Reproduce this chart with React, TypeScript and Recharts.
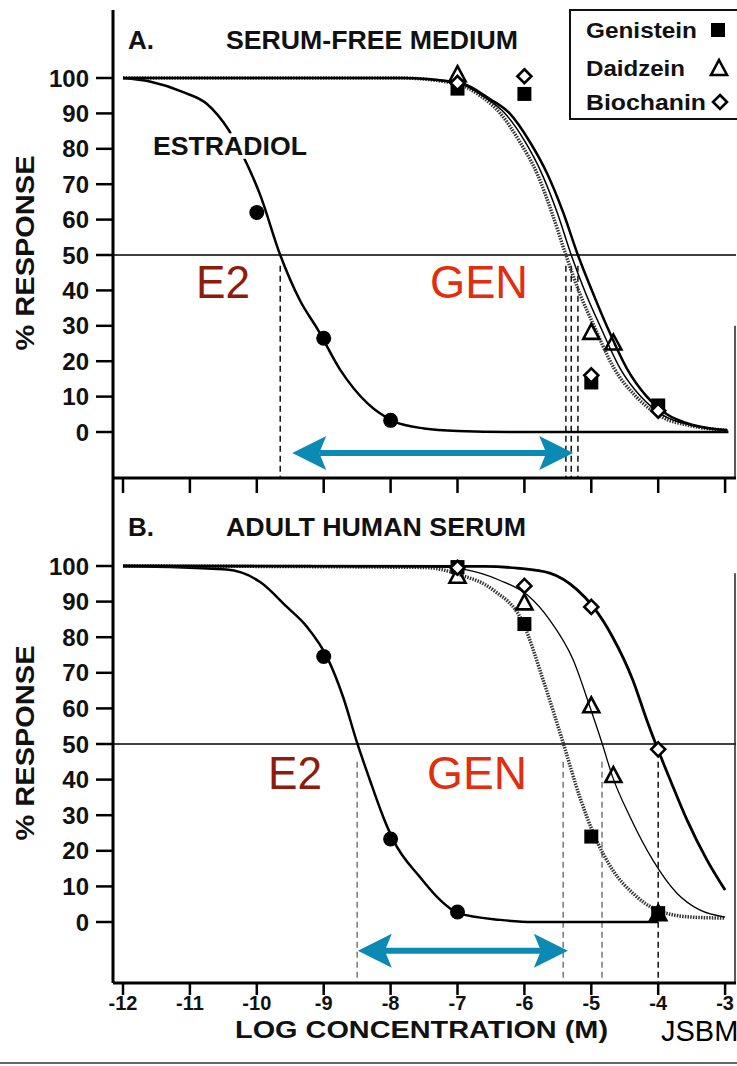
import React from 'react';
import { ComposedChart, Line, Scatter, XAxis, YAxis, ReferenceLine } from 'recharts';

type P = { x: number; y: number };
const pts = (a: number[][]): P[] => a.map(([x, y]) => ({ x, y }));

// ---- axis ticks ----
const xTicks = [-12, -11, -10, -9, -8, -7, -6, -5, -4, -3];
const yTicks = [0, 10, 20, 30, 40, 50, 60, 70, 80, 90, 100];

// ---- Panel A: serum-free medium (fitted curves) ----
const estradiolCurveA = [[-12, 100], [-11.6, 99], [-11.1, 96], [-10.74, 92.6], [-10.43, 85.6], [-10.13, 75], [-9.95, 67], [-9.65, 50], [-9.35, 37], [-9.09, 29], [-8.75, 17.5], [-8.34, 8], [-7.95, 3], [-7.5, 1], [-7, 0.3], [-6, 0], [-2.95, 0]];
const genisteinCurveA = [[-12, 100], [-7.86, 100], [-7.04, 98.5], [-6.66, 95], [-6.36, 90], [-6.07, 82], [-5.81, 73], [-5.59, 62], [-5.38, 50], [-5.17, 39], [-4.96, 30], [-4.66, 18], [-4.33, 10], [-3.97, 4.5], [-3.52, 1.8], [-2.96, 0.5]];
const daidzeinCurveA = [[-12, 100], [-7.86, 100], [-6.99, 98.5], [-6.59, 94.5], [-6.29, 90], [-5.99, 82], [-5.74, 73], [-5.51, 62], [-5.3, 50], [-5.08, 39], [-4.87, 30], [-4.57, 18], [-4.26, 10], [-3.93, 4.8], [-3.51, 1.9], [-2.96, 0.5]];
const biochaninCurveA = [[-12, 100], [-7.86, 100], [-6.96, 98.6], [-6.51, 94], [-6.22, 90], [-5.92, 82], [-5.66, 73], [-5.42, 62], [-5.2, 50], [-4.97, 39], [-4.77, 30], [-4.47, 18], [-4.17, 10], [-3.87, 5], [-3.48, 2], [-2.97, 0.5]];
const estradiolPtsA = [[-10, 62], [-9, 26.5], [-8, 3.3]];
const genisteinPtsA = [[-7, 97], [-6, 95.5], [-5, 14], [-4, 7.5]];
const daidzeinPtsA = [[-7, 100.8], [-5, 28], [-4.67, 25]];
const biochaninPtsA = [[-7, 98.6], [-6, 100.5], [-5, 16], [-4, 6]];
const ic50A = [-9.65, -5.38, -5.3, -5.2];
const arrowA = [-9.47, -5.27];
const arrowLevelA = -5.9;

// ---- Panel B: adult human serum ----
const estradiolCurveB = [[-12, 100], [-10.45, 99], [-9.95, 95.5], [-9.55, 88.5], [-9.25, 82.9], [-8.95, 74.4], [-8.71, 63.2], [-8.5, 50.3], [-8.31, 39.9], [-8.11, 29.5], [-7.96, 23], [-7.56, 12.6], [-7.26, 6.2], [-6.99, 2.5], [-6.36, 0.6], [-5.87, 0], [-4, 0]];
const genisteinCurveB = [[-12, 100], [-7.5, 99.6], [-6.96, 97.5], [-6.47, 93.3], [-6.02, 84], [-5.72, 68], [-5.42, 50.3], [-5.17, 35], [-4.97, 25], [-4.68, 14.6], [-4.38, 8.1], [-4.02, 3.4], [-3.52, 1.4], [-3.0, 1.1]];
const daidzeinCurveB = [[-12, 100], [-7.4, 99.8], [-6.86, 98.9], [-6.37, 96], [-5.96, 91.9], [-5.62, 84.8], [-5.27, 73.6], [-5.02, 60.4], [-4.84, 50.3], [-4.68, 40.7], [-4.42, 29.5], [-4.08, 17.4], [-3.72, 8.1], [-3.38, 3.4], [-3.0, 1.4]];
const biochaninCurveB = [[-12, 100], [-6.6, 99.9], [-6.11, 99.4], [-5.62, 98], [-5.21, 93.3], [-4.97, 88.5], [-4.68, 80], [-4.38, 68], [-4.17, 56.7], [-4.02, 49.2], [-3.82, 39.9], [-3.57, 28.7], [-3.27, 17.4], [-3.0, 9]];
const estradiolPtsB = [[-9, 74.6], [-8, 23.3], [-7, 2.8]];
const genisteinPtsB = [[-7, 99.7], [-6, 83.7], [-5, 24], [-4, 2.5]];
const daidzeinPtsB = [[-7, 97], [-6, 89.5], [-5, 60.6], [-4.67, 41], [-4, 2.2]];
const biochaninPtsB = [[-7, 99.5], [-6, 94.4], [-5, 88.5], [-4, 48.5]];
const ic50B = [-8.5, -5.42, -4.84, -4.0];
const arrowB = [-8.49, -5.35];
const arrowLevelB = -8.1;

// ---- scale settings ----
const X_DOMAIN: [number, number] = [-12.1495, -2.837];
const Y_DOMAIN_A: [number, number] = [-12.99, 119.21];
const Y_DOMAIN_B: [number, number] = [-17.13, 124.72];
const RIGHT_EDGE = -2.852;
const TOP_TICK_LEN_B = 4.2; // inner tick length on panel B's top edge, in % units

const ARROW = '#0B8AB3';
const FONT = '"Liberation Sans", Arial, Helvetica, sans-serif';

const Dot = (p: any) => <circle cx={p.cx} cy={p.cy} r={7.5} fill="#000" />;
const Square = (p: any) => <rect x={p.cx - 7} y={p.cy - 7} width={14} height={14} fill="#000" />;
const Triangle = (p: any) => (
  <path d={`M${p.cx},${p.cy - 9} L${p.cx + 8},${p.cy + 6} L${p.cx - 8},${p.cy + 6} Z`} fill="none" stroke="#000" strokeWidth={2.6} strokeLinejoin="miter" />
);
const Diamond = (p: any) => (
  <path d={`M${p.cx},${p.cy - 7} L${p.cx + 7},${p.cy} L${p.cx},${p.cy + 7} L${p.cx - 7},${p.cy} Z`} fill="#fff" stroke="#000" strokeWidth={2.6} />
);

const ArrowShape = (props: any) => {
  const a = Math.min(props.x1, props.x2);
  const b = Math.max(props.x1, props.x2);
  const y = props.y1;
  const L = 34, H = 17, N = 27;
  return (
    <g>
      <line x1={a + N} y1={y} x2={b - N} y2={y} stroke={ARROW} strokeWidth={6} />
      <path d={`M${a},${y} L${a + L},${y - H} L${a + N},${y} L${a + L},${y + H} Z`} fill={ARROW} />
      <path d={`M${b},${y} L${b - L},${y - H} L${b - N},${y} L${b - L},${y + H} Z`} fill={ARROW} />
    </g>
  );
};

const yAxisProps = {
  type: 'number' as const,
  ticks: yTicks,
  width: 113,
  tickSize: 17,
  tickMargin: 7,
  allowDataOverflow: true,
  axisLine: { stroke: '#000', strokeWidth: 3 },
  tickLine: { stroke: '#000', strokeWidth: 2.5 },
  tick: { fontSize: 24, fontWeight: 700, fill: '#111', fontFamily: FONT },
  interval: 0 as const,
};

function PanelA() {
  return (
    <ComposedChart width={737} height={480} margin={{ top: 10, right: 1, bottom: 2, left: 0 }}>
      <XAxis dataKey="x" type="number" domain={X_DOMAIN} allowDataOverflow hide />
      <XAxis xAxisId="top" orientation="top" type="number" domain={X_DOMAIN} allowDataOverflow height={0} tick={false} tickLine={false} axisLine={{ stroke: '#000', strokeWidth: 3 }} />
      <YAxis {...yAxisProps} domain={Y_DOMAIN_A} />
      <ReferenceLine y={50} stroke="#000" strokeWidth={1.3} />
      <ReferenceLine segment={[{ x: RIGHT_EDGE, y: 30 }, { x: RIGHT_EDGE, y: Y_DOMAIN_A[0] }]} stroke="#222" strokeWidth={1.5} />
      {ic50A.map((v, i) => (
        <ReferenceLine key={i} segment={[{ x: v, y: 47 }, { x: v, y: Y_DOMAIN_A[0] }]} stroke="#111" strokeWidth={1.5} strokeDasharray="6 4" />
      ))}
      <ReferenceLine segment={[{ x: arrowA[0], y: arrowLevelA }, { x: arrowA[1], y: arrowLevelA }]} shape={ArrowShape} />
      <Line data={pts(estradiolCurveA)} dataKey="y" type="monotone" dot={false} stroke="#000" strokeWidth={2.5} isAnimationActive={false} />
      <Line data={pts(genisteinCurveA)} dataKey="y" type="monotone" dot={false} stroke="#333" strokeWidth={3.5} strokeDasharray="1.5 1.2" isAnimationActive={false} />
      <Line data={pts(daidzeinCurveA)} dataKey="y" type="monotone" dot={false} stroke="#000" strokeWidth={1.5} isAnimationActive={false} />
      <Line data={pts(biochaninCurveA)} dataKey="y" type="monotone" dot={false} stroke="#000" strokeWidth={2.5} isAnimationActive={false} />
      <Scatter data={pts(estradiolPtsA)} dataKey="y" shape={Dot} isAnimationActive={false} />
      <Scatter data={pts(genisteinPtsA)} dataKey="y" shape={Square} isAnimationActive={false} />
      <Scatter data={pts(daidzeinPtsA)} dataKey="y" shape={Triangle} isAnimationActive={false} />
      <Scatter data={pts(biochaninPtsA)} dataKey="y" shape={Diamond} isAnimationActive={false} />
    </ComposedChart>
  );
}

function PanelB() {
  return (
    <ComposedChart width={737} height={596} margin={{ top: 8, right: 1, bottom: 0, left: 0 }}>
      <XAxis dataKey="x" type="number" domain={X_DOMAIN} allowDataOverflow ticks={xTicks} interval={0} height={83} tickSize={12} tickMargin={1}
        axisLine={{ stroke: '#000', strokeWidth: 3 }} tickLine={{ stroke: '#000', strokeWidth: 2.5 }}
        tick={{ fontSize: 20, fontWeight: 700, fill: '#111', fontFamily: FONT }} />
      <YAxis {...yAxisProps} domain={Y_DOMAIN_B} />
      <ReferenceLine y={Y_DOMAIN_B[1]} stroke="#000" strokeWidth={3} />
      {xTicks.map((v) => (
        <ReferenceLine key={`t${v}`} segment={[{ x: v, y: Y_DOMAIN_B[1] }, { x: v, y: Y_DOMAIN_B[1] - TOP_TICK_LEN_B }]} stroke="#000" strokeWidth={2.5} />
      ))}
      <ReferenceLine y={50} stroke="#000" strokeWidth={1.3} />
      <ReferenceLine segment={[{ x: RIGHT_EDGE, y: 98 }, { x: RIGHT_EDGE, y: Y_DOMAIN_B[0] }]} stroke="#222" strokeWidth={1.5} />
      {ic50B.map((v, i) => (
        <ReferenceLine key={i} segment={[{ x: v, y: 45 }, { x: v, y: Y_DOMAIN_B[0] }]} stroke={i === 3 ? '#111' : '#777'} strokeWidth={1.5} strokeDasharray="6 4" />
      ))}
      <ReferenceLine segment={[{ x: arrowB[0], y: arrowLevelB }, { x: arrowB[1], y: arrowLevelB }]} shape={ArrowShape} />
      <Line data={pts(estradiolCurveB)} dataKey="y" type="monotone" dot={false} stroke="#000" strokeWidth={2.5} isAnimationActive={false} />
      <Line data={pts(genisteinCurveB)} dataKey="y" type="monotone" dot={false} stroke="#333" strokeWidth={3.5} strokeDasharray="1.5 1.2" isAnimationActive={false} />
      <Line data={pts(daidzeinCurveB)} dataKey="y" type="monotone" dot={false} stroke="#000" strokeWidth={1.3} isAnimationActive={false} />
      <Line data={pts(biochaninCurveB)} dataKey="y" type="monotone" dot={false} stroke="#000" strokeWidth={2.8} isAnimationActive={false} />
      <Scatter data={pts(estradiolPtsB)} dataKey="y" shape={Dot} isAnimationActive={false} />
      <Scatter data={pts(genisteinPtsB)} dataKey="y" shape={Square} isAnimationActive={false} />
      <Scatter data={pts(daidzeinPtsB)} dataKey="y" shape={Triangle} isAnimationActive={false} />
      <Scatter data={pts(biochaninPtsB)} dataKey="y" shape={Diamond} isAnimationActive={false} />
    </ComposedChart>
  );
}

function Overlay() {
  const bold = { fontFamily: FONT, fontWeight: 700, fill: '#111' } as const;
  const halo = { stroke: '#fff', strokeWidth: 7, paintOrder: 'stroke' as const };
  return (
    <svg width={737} height={1066} style={{ position: 'absolute', left: 0, top: 0, pointerEvents: 'none' }}>
      {/* Panel A titles */}
      <text x={128} y={49} fontSize={26} {...bold}>A.</text>
      <text x={226} y={49} fontSize={26} textLength={292} lengthAdjust="spacingAndGlyphs" {...bold}>SERUM-FREE MEDIUM</text>
      <text x={153} y={155} fontSize={26} textLength={154} lengthAdjust="spacingAndGlyphs" {...bold} {...halo}>ESTRADIOL</text>
      {/* Legend */}
      <rect x={570} y={10} width={175} height={109} fill="#fff" stroke="#111" strokeWidth={2} />
      <text x={586} y={38} fontSize={22} textLength={111} lengthAdjust="spacingAndGlyphs" {...bold}>Genistein</text>
      <text x={586} y={76} fontSize={22} textLength={99} lengthAdjust="spacingAndGlyphs" {...bold}>Daidzein</text>
      <text x={586} y={110} fontSize={22} textLength={120} lengthAdjust="spacingAndGlyphs" {...bold}>Biochanin</text>
      <Square cx={718} cy={30} />
      <Triangle cx={719} cy={69} />
      <Diamond cx={720} cy={102} />
      {/* Panel A annotations */}
      <text x={196} y={298} fontSize={46} fill="#8E1B0C" fontFamily={FONT} textLength={54} lengthAdjust="spacingAndGlyphs">E2</text>
      <text x={430} y={298} fontSize={46} fill="#E12E0E" fontFamily={FONT} textLength={98} lengthAdjust="spacingAndGlyphs">GEN</text>
      {/* Panel B titles */}
      <text x={128} y={536} fontSize={26} {...bold}>B.</text>
      <text x={226} y={536} fontSize={26} textLength={300} lengthAdjust="spacingAndGlyphs" {...bold}>ADULT HUMAN SERUM</text>
      <text x={268} y={789} fontSize={46} fill="#8E1B0C" fontFamily={FONT} textLength={54} lengthAdjust="spacingAndGlyphs">E2</text>
      <text x={427} y={789} fontSize={46} fill="#E12E0E" fontFamily={FONT} textLength={100} lengthAdjust="spacingAndGlyphs">GEN</text>
      {/* Axis titles */}
      <text transform="translate(34,253) rotate(-90)" textAnchor="middle" fontSize={25} textLength={195} lengthAdjust="spacingAndGlyphs" {...bold}>% RESPONSE</text>
      <text transform="translate(34,743) rotate(-90)" textAnchor="middle" fontSize={25} textLength={195} lengthAdjust="spacingAndGlyphs" {...bold}>% RESPONSE</text>
      <text x={235} y={1038} fontSize={23} textLength={373} lengthAdjust="spacingAndGlyphs" {...bold}>LOG CONCENTRATION (M)</text>
      <text x={661} y={1041} fontSize={29} fill="#000" fontFamily={FONT}>JSBM</text>
      <line x1={0} y1={1063} x2={737} y2={1063} stroke="#666" strokeWidth={2} />
    </svg>
  );
}

export default function App() {
  return (
    <div style={{ position: 'absolute', left: 0, top: 0, width: 737, height: 1066, background: '#fff', overflow: 'hidden', fontFamily: FONT }}>
      <div style={{ position: 'absolute', left: 0, top: 0 }}>
        <PanelA />
      </div>
      <div style={{ position: 'absolute', left: 0, top: 470 }}>
        <PanelB />
      </div>
      <Overlay />
    </div>
  );
}
